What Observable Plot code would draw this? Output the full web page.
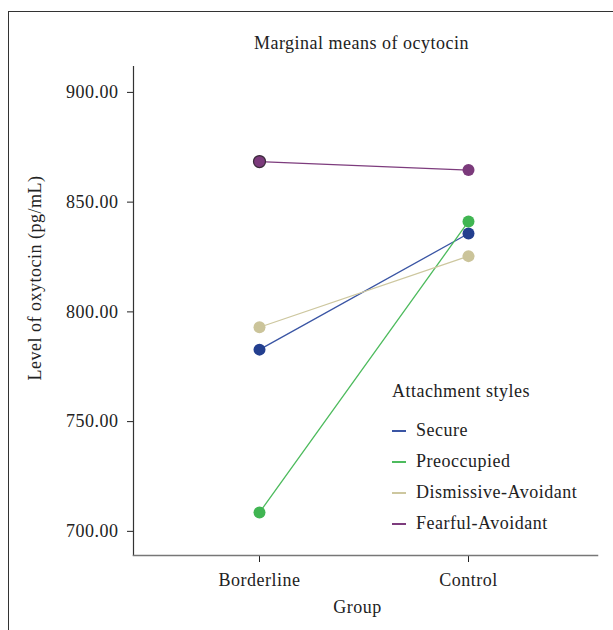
<!DOCTYPE html>
<html><head><meta charset="utf-8">
<script src="https://cdn.jsdelivr.net/npm/d3@7"></script>
<script src="https://cdn.jsdelivr.net/npm/@observablehq/plot@0.6"></script>
<style>
body{margin:0;background:#fff;}
#wrap{position:relative;width:613px;height:630px;overflow:hidden;font-family:"Liberation Serif",serif;color:#222;}
#box{position:absolute;left:8px;top:11px;width:620px;height:640px;border:1.5px solid #333;box-sizing:border-box;}
#legend{position:absolute;left:392px;top:378px;font-size:18px;letter-spacing:0.5px;}
#legend .t{height:26px;line-height:26px;margin-bottom:11px;}
#legend .i{height:31px;line-height:31px;display:flex;align-items:center;}
#legend .sw{width:14px;height:0;border-top:2px solid;margin-right:10px;}
svg text{font-family:"Liberation Serif",serif !important;font-variant:normal !important;letter-spacing:0.5px;}
</style></head>
<body><div id="wrap"><div id="box"></div><div id="chart"></div><div id="legend"></div></div>
<script>
const groups = ["Borderline", "Control"];
const styles = ["Secure", "Preoccupied", "Dismissive-Avoidant", "Fearful-Avoidant"];
const borderline = [782.8, 708.6, 793.0, 868.5];
const control = [835.7, 841.2, 825.4, 864.6];
const lineColors = ["#3a55a4", "#4dbb5d", "#cdc79f", "#7d3c7d"];
const dotColors = ["#233f8f", "#40b552", "#cbc49a", "#7b3a7b"];
const yTicks = [700, 750, 800, 850, 900];
const titleText = "Marginal means of ocytocin";
const xLabel = "Group";
const yLabel = "Level of oxytocin (pg/mL)";
const legendTitle = "Attachment styles";

const data = [];
styles.forEach((s, i) => {
  data.push({style: s, group: groups[0], value: borderline[i]});
  data.push({style: s, group: groups[1], value: control[i]});
});

const chart = Plot.plot({
  width: 613, height: 630,
  marginLeft: 133, marginRight: 16, marginTop: 66, marginBottom: 75,
  style: {fontSize: "18px", fontFamily: "Liberation Serif, serif", color: "#222", background: "transparent"},
  x: {type: "point", domain: groups, padding: 0.61, align: 0.494, label: null, tickSize: 7, tickPadding: 11},
  y: {domain: [689, 911.8], ticks: yTicks, tickFormat: d3.format(".2f"), label: null, tickSize: 6, tickPadding: 9},
  color: {domain: styles, range: lineColors},
  marks: [
    Plot.frame({anchor: "left", stroke: "#333", strokeWidth: 1.2}),
    Plot.frame({anchor: "bottom", stroke: "#777", strokeWidth: 1.5}),
    Plot.line(data, {x: "group", y: "value", z: "style", stroke: "style", strokeWidth: 1.3}),
    Plot.dot(data, {x: "group", y: "value", r: 6, fill: d => dotColors[styles.indexOf(d.style)], stroke: d => (d.style === "Fearful-Avoidant" && d.group === "Borderline") ? "#3a2a3a" : "none", strokeWidth: 1.2}),
    Plot.text([titleText], {frameAnchor: "top", dx: -4, dy: -30, fontSize: 18, fill: "#222"}),
    Plot.text([xLabel], {frameAnchor: "bottom", dx: -8, dy: 57, fontSize: 18, fill: "#222"}),
    Plot.text([yLabel], {frameAnchor: "left", textAnchor: "middle", dx: -98, dy: -33, rotate: -90, fontSize: 18, fill: "#222"})
  ]
});
document.getElementById("chart").appendChild(chart);

const lg = document.getElementById("legend");
const t = document.createElement("div"); t.className = "t"; t.textContent = legendTitle; lg.appendChild(t);
styles.forEach((s, i) => {
  const it = document.createElement("div"); it.className = "i";
  const sw = document.createElement("div"); sw.className = "sw"; sw.style.borderTopColor = lineColors[i];
  const tx = document.createElement("span"); tx.textContent = s;
  it.appendChild(sw); it.appendChild(tx); lg.appendChild(it);
});
</script></body></html>
